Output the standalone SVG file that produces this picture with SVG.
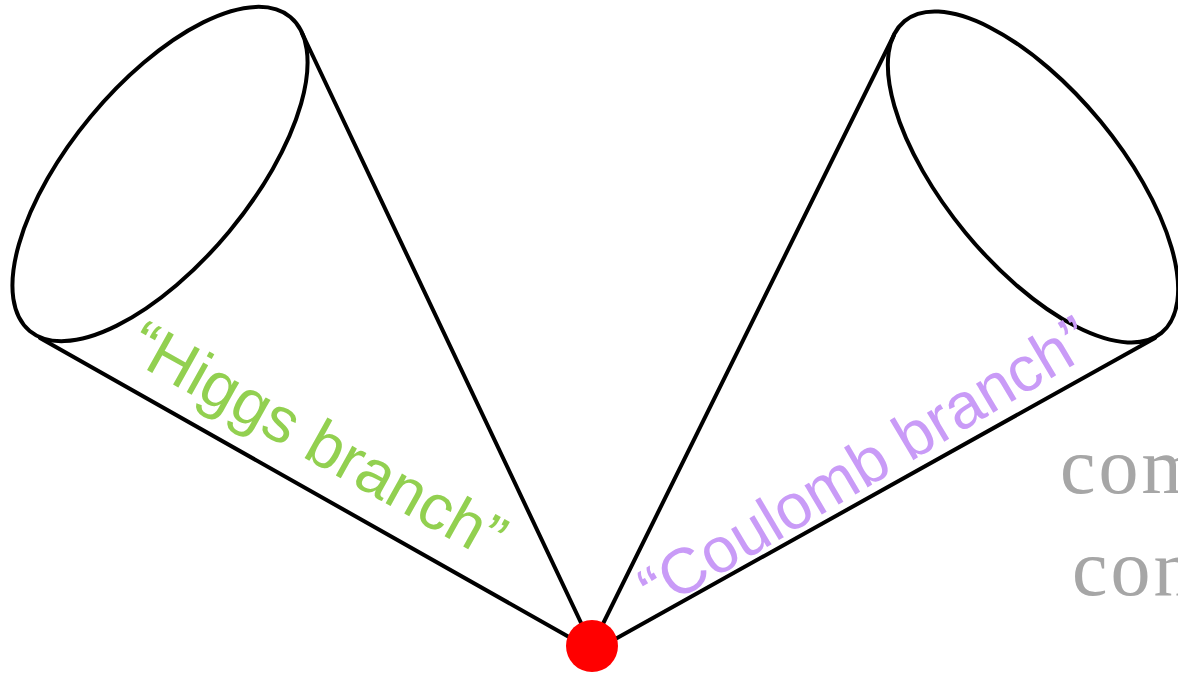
<svg xmlns="http://www.w3.org/2000/svg" width="1178" height="674" viewBox="0 0 1178 674">
<style>
.rim{fill:none;stroke:#000;stroke-width:4}
.gen{stroke:#000;stroke-width:4;stroke-linecap:round}
.lbl{font-family:"Liberation Sans",Arial,sans-serif;font-size:64px}
.bg{font-family:"Liberation Serif","Times New Roman",serif;font-size:80px;fill:#A6A6A6;letter-spacing:3px}
</style>
<rect width="1178" height="674" fill="#fff"/>
<g id="background-text">
<text class="bg" x="1060" y="493">com</text>
<text class="bg" x="1072" y="595">con</text>
</g>
<g id="connectors">
<line class="gen" x1="40" y1="338" x2="592" y2="650"/>
<line class="gen" x1="302" y1="33" x2="592" y2="646"/>
<line class="gen" x1="894" y1="35" x2="592" y2="646"/>
<line class="gen" x1="1155" y1="338" x2="592" y2="652"/>
</g>
<g id="higgs-cone">
<ellipse class="rim" cx="160" cy="174" rx="204" ry="90" transform="rotate(-50.3 160 174)"/>
<text class="lbl" fill="#92D050" transform="translate(124 357) rotate(29.2)">“Higgs branch”</text>
</g>
<g id="coulomb-cone">
<ellipse class="rim" cx="1033" cy="177" rx="202" ry="87.5" transform="rotate(50.5 1033 177)"/>
<text class="lbl" fill="#C99BF7" transform="translate(656 613) rotate(-30.7)">“Coulomb branch”</text>
</g>
<g id="origin">
<circle cx="592" cy="646" r="26" fill="#FF0000"/>
</g>
</svg>
